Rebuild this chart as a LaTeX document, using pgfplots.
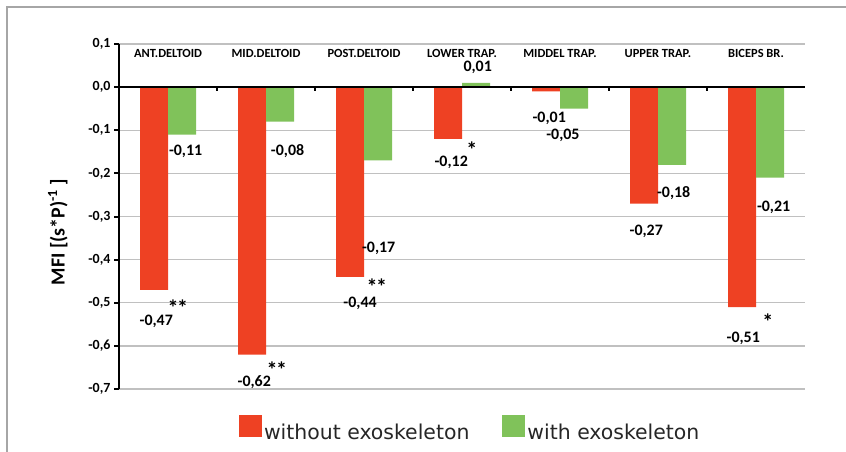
\documentclass[border=0pt]{standalone}
\usepackage{pgfplots}
\pgfplotsset{compat=1.18}
\usepackage{fontspec}
\setmainfont{Carlito}
\newfontfamily\legfont{DejaVu Sans}
\definecolor{barred}{HTML}{EE4123}
\definecolor{bargreen}{HTML}{80C25A}
\definecolor{gridgray}{HTML}{C0C0C0}
\definecolor{framegray}{HTML}{A6A6A6}

\begin{document}
\begin{tikzpicture}[
  vlab/.style={font=\bfseries\fontsize{16}{17}\selectfont, inner sep=0pt},
  cat/.style={font=\bfseries\fontsize{12.5}{13}\selectfont, inner sep=0pt},
  ast/.style={font=\bfseries\fontsize{22}{22}\selectfont, inner sep=0pt}]
\useasboundingbox (0,0) rectangle (846bp,452bp);
\draw[framegray, line width=1.2bp] (7bp,0) -- (7bp,445bp) -- (846bp,445bp);
\begin{axis}[
  at={(119bp,63bp)}, anchor=south west,
  scale only axis, width=686bp, height=345bp,
  xmin=-0.5, xmax=6.5, ymin=-0.7, ymax=0.1,
  ybar=0pt, bar width=28bp,
  axis y line=left, axis x line=none,
  y axis line style={-, black, line width=2.2bp},
  ytick={-0.7,-0.6,-0.5,-0.4,-0.3,-0.2,-0.1,0,0.1},
  yticklabels={{-0,7},{-0,6},{-0,5},{-0,4},{-0,3},{-0,2},{-0,1},{0,0},{0,1}},
  yticklabel style={font=\bfseries\fontsize{14}{15}\selectfont},
  tick align=outside, major tick length=5bp,
  y tick style={black, line width=2bp},
  ymajorgrids, grid style={gridgray, line width=1.3bp},
  clip=false,
  ylabel={MFI [(s*P)\textsuperscript{-1} ]},
  ylabel style={font=\bfseries\fontsize{20}{21}\selectfont,
    at={(axis description cs:-0.089,0.455)}, anchor=center},
  legend columns=2,
  legend style={at={(axis description cs:0.512,-0.116)}, anchor=center,
    draw=none, fill=none, text=black!85,
    font=\legfont\fontsize{20.5}{23}\selectfont,
    /tikz/every even column/.append style={column sep=31bp}},
]
\addplot[fill=barred, draw=none,
  legend image code/.code={\fill[barred] (0bp,-4bp) rectangle (23bp,18bp);}]
  coordinates {(0,-0.47) (1,-0.62) (2,-0.44) (3,-0.12) (4,-0.01) (5,-0.27) (6,-0.51)};
\addlegendentry{without exoskeleton}
\addplot[fill=bargreen, draw=none,
  legend image code/.code={\fill[bargreen] (0bp,-4bp) rectangle (23bp,18bp);}]
  coordinates {(0,-0.11) (1,-0.08) (2,-0.17) (3,0.01) (4,-0.05) (5,-0.18) (6,-0.21)};
\addlegendentry{with exoskeleton}

% zero line and group separators
\draw[black, line width=2.5bp] (axis cs:-0.5,0) -- (axis cs:6.5,0);
\pgfplotsinvokeforeach{0.5,1.5,2.5,3.5,4.5,5.5}{
  \draw[black, line width=2bp] (axis cs:#1,0) -- (axis cs:#1,-0.01);
}

% category names
\node[cat] at (axis cs:0,0.079) {ANT.DELTOID};
\node[cat] at (axis cs:1,0.079) {MID.DELTOID};
\node[cat] at (axis cs:2,0.079) {POST.DELTOID};
\node[cat] at (axis cs:3,0.079) {LOWER TRAP.};
\node[cat] at (axis cs:4,0.079) {MIDDEL TRAP.};
\node[cat] at (axis cs:5,0.079) {UPPER TRAP.};
\node[cat] at (axis cs:6,0.079) {BICEPS BR.};

% values, without exoskeleton
\node[vlab] at (axis cs:-0.12,-0.543) {-0,47};
\node[vlab] at (axis cs:0.88,-0.684) {-0,62};
\node[vlab] at (axis cs:1.96,-0.501) {-0,44};
\node[vlab] at (axis cs:2.89,-0.174) {-0,12};
\node[vlab] at (axis cs:3.89,-0.072) {-0,01};
\node[vlab] at (axis cs:4.88,-0.334) {-0,27};
\node[vlab] at (axis cs:5.87,-0.582) {-0,51};

% values, with exoskeleton
\node[vlab] at (axis cs:0.18,-0.148) {-0,11};
\node[vlab] at (axis cs:1.22,-0.148) {-0,08};
\node[vlab] at (axis cs:2.15,-0.374) {-0,17};
\node[vlab] at (axis cs:3.16,0.046) {0,01};
\node[vlab] at (axis cs:4.03,-0.111) {-0,05};
\node[vlab] at (axis cs:5.16,-0.246) {-0,18};
\node[vlab] at (axis cs:6.18,-0.278) {-0,21};

% significance
\node[ast] at (axis cs:0.10,-0.512) {*\kern-1.5bp*};
\node[ast] at (axis cs:1.11,-0.654) {*\kern-1.5bp*};
\node[ast] at (axis cs:2.13,-0.462) {*\kern-1.5bp*};
\node[ast] at (axis cs:3.10,-0.146) {*};
\node[ast] at (axis cs:6.12,-0.543) {*};
\end{axis}
\end{tikzpicture}
\end{document}
